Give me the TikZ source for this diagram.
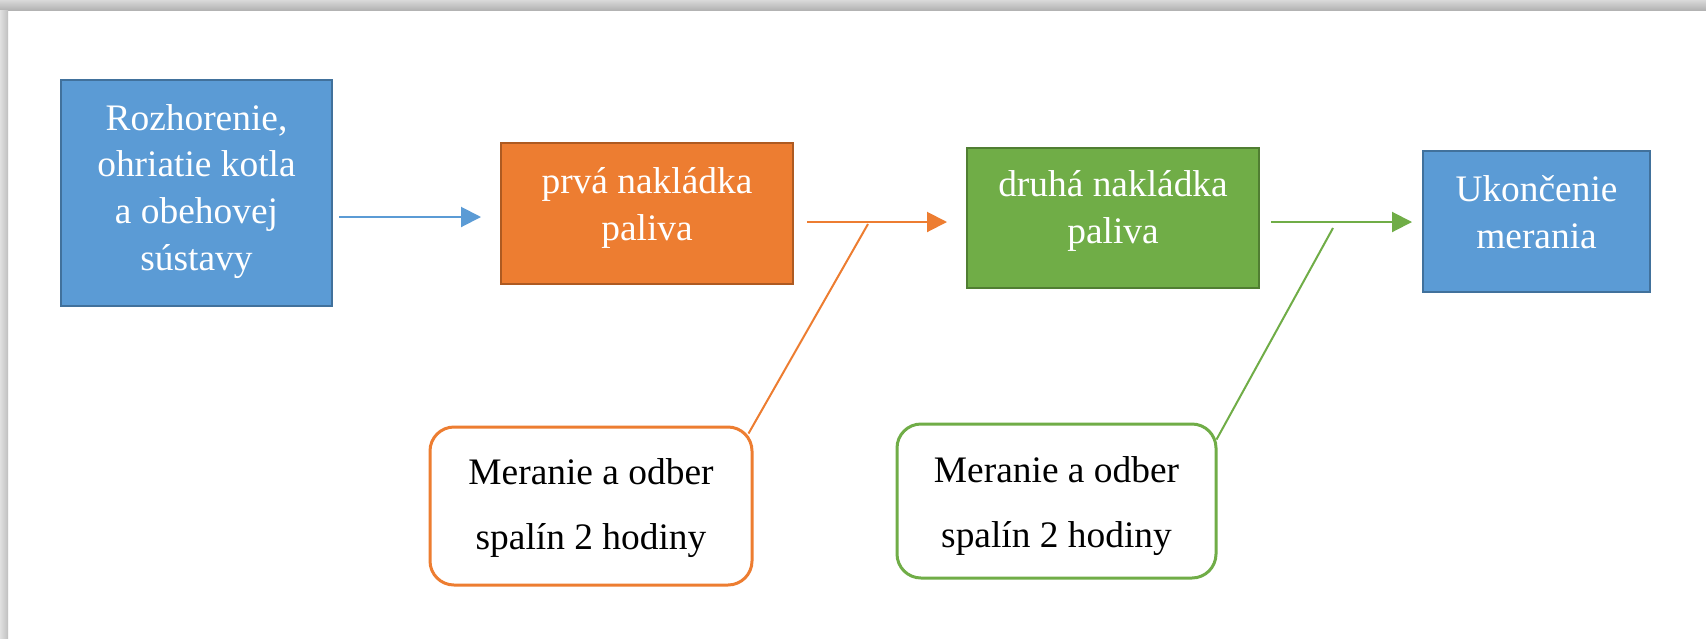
\documentclass[tikz,border=0pt]{standalone}
\usepackage{fontspec}
\setmainfont{Liberation Serif}
\usetikzlibrary{arrows.meta,calc}
\definecolor{cblue}{HTML}{5B9BD5}
\definecolor{cblueD}{HTML}{41719C}
\definecolor{corange}{HTML}{ED7D31}
\definecolor{corangeD}{HTML}{AE5A21}
\definecolor{cgreen}{HTML}{70AD47}
\definecolor{cgreenD}{HTML}{507E32}
\begin{document}
\begin{tikzpicture}[x=0.5pt,y=-0.5pt,
  box/.style={draw, line width=1pt, text=white, align=center,
    font=\fontsize{18.7}{23.3}\selectfont, inner sep=0pt, text depth=0pt},
  note/.style={draw, line width=1.5pt, fill=white, rounded corners=12pt, align=center,
    font=\fontsize{18.7}{32.5}\selectfont, inner sep=0pt, text depth=0pt},
  conn/.style={line width=1pt, -{Triangle[length=10pt,width=10pt]}},
  lead/.style={line width=1pt}
  ]
\useasboundingbox (0,0) rectangle (1706,638);
\fill[white] (0,0) rectangle (1706,638);
\shade[top color=black!15, bottom color=black!30] (0,0) rectangle (1706,10);
\shade[left color=black!12, right color=black!25] (0,10) rectangle (8,638);

\node[box, fill=cblue, draw=cblueD, minimum width=135.5pt, minimum height=113pt, text height=77pt]
  (b1) at (196.5,193) {Rozhorenie,\\ohriatie kotla\\a obehovej\\sústavy};
\node[box, fill=corange, draw=corangeD, minimum width=146pt, minimum height=70.5pt, text height=26.5pt]
  (b2) at (647,213.5) {prvá nakládka\\paliva};
\node[box, fill=cgreen, draw=cgreenD, minimum width=146pt, minimum height=70pt, text height=25pt]
  (b3) at (1113,218) {druhá nakládka\\paliva};
\node[box, fill=cblue, draw=cblueD, minimum width=113.5pt, minimum height=70.5pt, text height=26.5pt]
  (b4) at (1536.5,221.5) {Ukončenie\\merania};

\node[note, draw=corange, minimum width=161pt, minimum height=79pt, text height=43pt]
  (c1) at (591,506) {Meranie a odber\\spalín 2 hodiny};
\node[note, draw=cgreen, minimum width=159.5pt, minimum height=77pt, text height=46pt]
  (c2) at (1056.5,501) {Meranie a odber\\spalín 2 hodiny};

\coordinate (ya) at (0,217);
\coordinate (yb) at (0,222);
\draw[conn, cblue, shorten <=3pt, shorten >=9.5pt] (b1.east |- ya) -- (b2.west |- ya);
\draw[conn, corange, shorten <=6.5pt, shorten >=9.5pt] (b2.east |- yb) -- (b3.west |- yb);
\draw[conn, cgreen, shorten <=5.5pt, shorten >=5pt] (b3.east |- yb) -- (b4.west |- yb);

\coordinate (t1) at (868,224);
\coordinate (t2) at (1333,228);
\draw[lead, corange] ($(c1.north east)+(-5,8)$) -- (t1);
\draw[lead, cgreen] ($(c2.north east)+(-1,17)$) -- (t2);
\end{tikzpicture}
\end{document}
